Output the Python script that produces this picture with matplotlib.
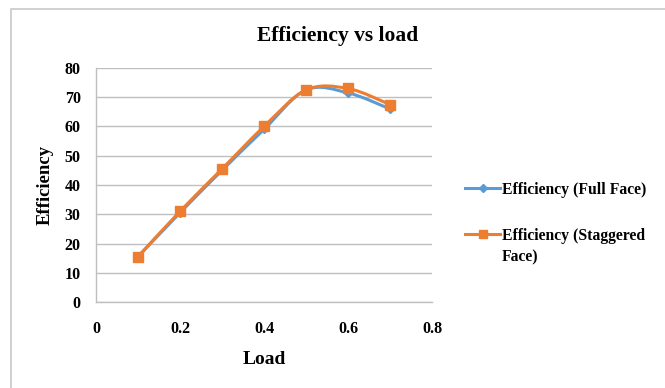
import numpy as np
import matplotlib
matplotlib.use("Agg")
import matplotlib.pyplot as plt
from matplotlib.path import Path
from matplotlib.patches import PathPatch, Rectangle
from matplotlib.lines import Line2D

plt.rcParams['font.family'] = ['Liberation Serif', 'DejaVu Serif']
plt.rcParams['font.weight'] = 'bold'

load = [0.1, 0.2, 0.3, 0.4, 0.5, 0.6, 0.7]
eff_full = [15.5, 30.5, 45.0, 59.0, 72.5, 71.5, 66.0]
eff_staggered = [15.5, 31.0, 45.5, 60.0, 72.5, 73.0, 67.5]
x_ticks = [0, 0.2, 0.4, 0.6, 0.8]
x_tick_labels = ["0", "0.2", "0.4", "0.6", "0.8"]
y_ticks = [0, 10, 20, 30, 40, 50, 60, 70, 80]
series_names = ['Efficiency (Full Face)', 'Efficiency (Staggered\nFace)']

BLUE = '#5B9BD5'
ORANGE = '#ED7D31'
GRID = '#BFBFBF'
W, H = 665, 388


def smooth_path(xs, ys):
    # Catmull-Rom style cubic Bezier through the points (spreadsheet "smoothed line")
    pts = np.column_stack([xs, ys]).astype(float)
    n = len(pts)
    verts = [pts[0]]
    codes = [Path.MOVETO]
    for i in range(n - 1):
        p0 = pts[i - 1] if i > 0 else pts[i]
        p1 = pts[i]
        p2 = pts[i + 1]
        p3 = pts[i + 2] if i + 2 < n else pts[i + 1]
        c1 = p1 + (p2 - p0) / 6.0
        c2 = p2 - (p3 - p1) / 6.0
        verts += [c1, c2, p2]
        codes += [Path.CURVE4] * 3
    return Path(verts, codes)


fig = plt.figure(figsize=(W / 100, H / 100), dpi=100)
ax = fig.add_axes([96 / W, 1 - 302 / H, 336 / W, 234 / H])

styles = [(eff_full, BLUE, 'D', 4.5), (eff_staggered, ORANGE, 's', 7)]
for ys, color, marker, ms in styles:
    ax.add_patch(PathPatch(smooth_path(load, ys), facecolor='none',
                           edgecolor=color, lw=2.2, capstyle='round',
                           joinstyle='round', zorder=3))
    ax.plot(load, ys, linestyle='none', marker=marker, ms=ms, color=color,
            zorder=4)

ax.set_xlim(0, 0.8)
ax.set_ylim(0, 80)
ax.set_xticks(x_ticks)
ax.set_xticklabels(x_tick_labels)
ax.set_yticks(y_ticks)
ax.grid(axis='y', color=GRID, lw=1)
ax.set_axisbelow(True)
for side in ['top', 'right']:
    ax.spines[side].set_visible(False)
for side in ['left', 'bottom']:
    ax.spines[side].set_color(GRID)
    ax.spines[side].set_linewidth(1)
ax.tick_params(length=0, labelsize=11.5)
ax.tick_params(axis='x', pad=14)
ax.tick_params(axis='y', pad=11)

fig.text(338 / W, 1 - 36 / H, 'Efficiency vs load', fontsize=15.5,
         fontweight='bold', ha='center', va='center')
ax.set_xlabel('Load', fontsize=14, fontweight='bold', labelpad=10)
ax.set_ylabel('Efficiency', fontsize=13.5, fontweight='bold', labelpad=8)

# legend drawn by hand so the wrapped label keeps its handle on the first line
legend_rows = [188, 234]
for (ys, color, marker, ms), name, yrow in zip(styles, series_names, legend_rows):
    yf = 1 - yrow / H
    fig.add_artist(Line2D([465 / W, 500 / W], [yf, yf], color=color, lw=2.2,
                          transform=fig.transFigure))
    fig.add_artist(Line2D([482.5 / W], [yf], marker=marker,
                          ms=ms * 0.85, color=color, linestyle='none',
                          transform=fig.transFigure))
    fig.text(502 / W, 1 - (yrow - 6) / H, name, fontsize=11.3,
             fontweight='bold', ha='left', va='top', linespacing=1.45)

# outer chart frame
fig.patches.append(Rectangle((11 / W, -0.01), 1.0, 1 - 9 / H + 0.01,
                             transform=fig.transFigure, fill=False,
                             edgecolor='#C8C8C8', lw=1.2))

fig.savefig('out.png', dpi=100)
